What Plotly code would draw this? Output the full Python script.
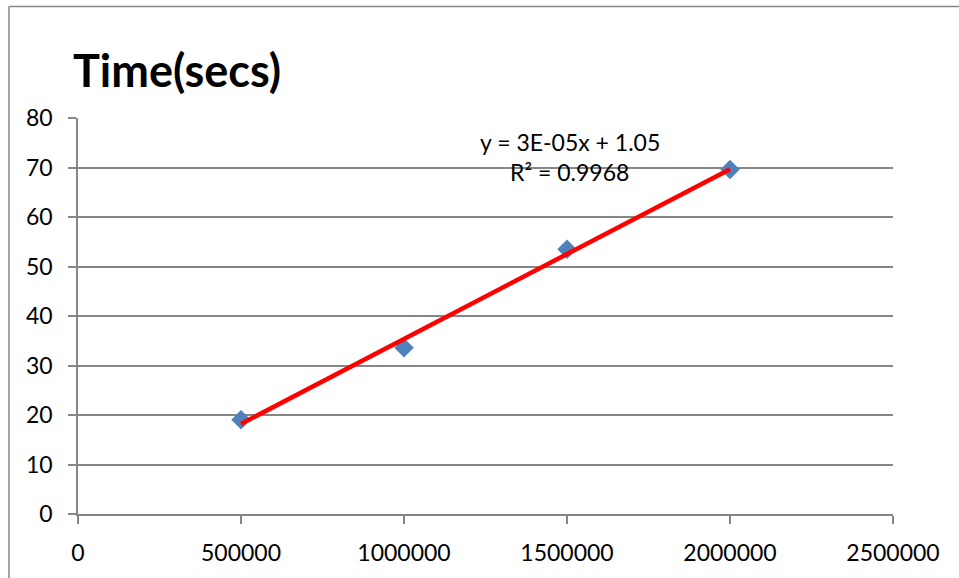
import numpy as np
import plotly.graph_objects as go

# Input sizes and measured run times
sizes = [500000, 1000000, 1500000, 2000000]
times = [19.05, 33.6, 53.5, 69.6]

x_ticks = [0, 500000, 1000000, 1500000, 2000000, 2500000]
y_ticks = [0, 10, 20, 30, 40, 50, 60, 70, 80]

# Linear least-squares trendline
slope, intercept = np.polyfit(sizes, times, 1)
fitted = np.polyval([slope, intercept], sizes)
ss_res = float(np.sum((np.array(times) - fitted) ** 2))
ss_tot = float(np.sum((np.array(times) - np.mean(times)) ** 2))
r2 = 1 - ss_res / ss_tot

trend_x = [sizes[0], sizes[-1]]
trend_y = list(np.polyval([slope, intercept], trend_x))

eq_text = f"y = {slope:.0E}x + {intercept:.2f}"
r2_text = f"R² = {r2:.4f}"

FONT = "Lato, 'Open Sans', sans-serif"
GRID = "#868686"

fig = go.Figure()
fig.add_trace(go.Scatter(
    x=sizes, y=times, mode="markers",
    marker=dict(symbol="diamond", size=15, color="#4F81BD"),
    showlegend=False,
))
fig.add_trace(go.Scatter(
    x=trend_x, y=trend_y, mode="lines",
    line=dict(color="#FF0000", width=4.5),
    showlegend=False,
))

fig.update_layout(
    width=959, height=578,
    margin=dict(l=78, r=66, t=118, b=62),
    paper_bgcolor="white", plot_bgcolor="white",
    font=dict(family=FONT, size=23, color="black"),
    xaxis=dict(
        range=[0, 2500000], tickvals=x_ticks, tickformat="d",
        showgrid=False, zeroline=False,
        showline=True, linecolor=GRID, linewidth=1.5,
        ticks="outside", ticklen=8, tickcolor=GRID, tickwidth=1.5,
        ticklabelstandoff=10,
    ),
    yaxis=dict(
        range=[0, 80], tickvals=y_ticks,
        showgrid=True, gridcolor=GRID, gridwidth=1.5, zeroline=False,
        showline=True, linecolor=GRID, linewidth=1.5,
        ticks="outside", ticklen=8, tickcolor=GRID, tickwidth=1.5,
        ticklabelstandoff=11,
    ),
    annotations=[
        dict(text="<b>Time(secs)</b>", xref="paper", yref="paper",
             x=-0.009, y=1.121, xanchor="left", yanchor="middle",
             showarrow=False, font=dict(size=45, family=FONT)),
        dict(text=eq_text, xref="x", yref="y", x=1509000, y=75.1,
             xanchor="center", yanchor="middle", showarrow=False,
             font=dict(size=23, family=FONT)),
        dict(text=r2_text, xref="x", yref="y", x=1509000, y=69.1,
             xanchor="center", yanchor="middle", showarrow=False,
             font=dict(size=23, family=FONT)),
    ],
    shapes=[
        # chart frame: left and top edges
        dict(type="line", xref="paper", yref="paper",
             x0=-0.0847, x1=1.09, y0=1.2818, y1=1.2818,
             line=dict(color=GRID, width=1.5)),
        dict(type="line", xref="paper", yref="paper",
             x0=-0.0847, x1=-0.0847, y0=1.2818, y1=-0.17,
             line=dict(color=GRID, width=1.5)),
    ],
)

fig.write_html("out.html")
